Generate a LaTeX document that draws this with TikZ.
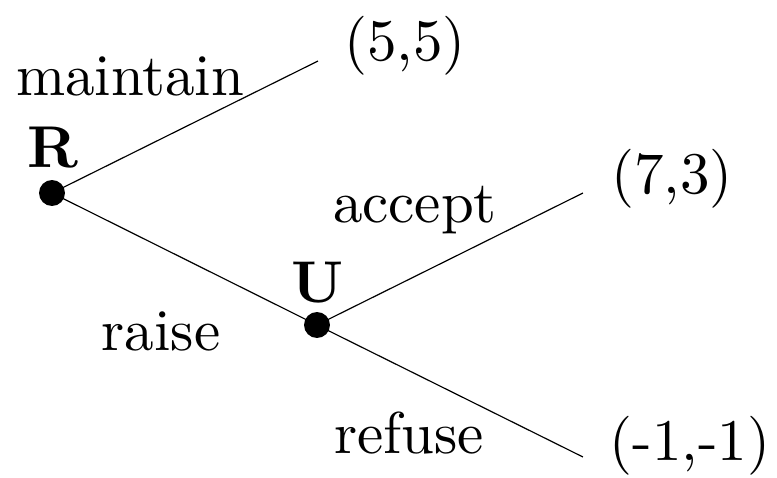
\documentclass[tikz,border=0pt]{standalone}
\usepackage{amsmath, amssymb}
\usepackage{tikz}

\begin{document}
\begin{tikzpicture}[x=0.1695pt, y=-0.1695pt, line width=0.2pt,
    dot/.style={circle, fill, inner sep=0pt, minimum size=4.4pt},
    lbl/.style={anchor=base, inner sep=0pt}]
  \useasboundingbox (0,0) rectangle (777,477);
  % decision nodes
  \node[dot] (R) at (52,193) {};
  \node[dot] (U) at (317,325) {};
  \coordinate (endM) at (318,61);
  \coordinate (endA) at (583,193);
  \coordinate (endF) at (583,457);
  \draw (R.center) -- (endM);
  \draw (R.center) -- (U.center);
  \draw (U.center) -- (endA);
  \draw (U.center) -- (endF);
  % labels
  \node[lbl] (rlab) at (53,167) {$\mathbf{R}$};
  \node[lbl] (ulab) at (318,302) {$\mathbf{U}$};
  \node[lbl] (maint) at (130,95) {maintain};
  \node[lbl] (raise) at (161,350) {raise};
  \node[lbl] (acc) at (415,222) {accept};
  \node[lbl] (ref) at (409,453) {refuse};
  \node[lbl] (payM) at (405,60) {(5,5)};
  \node[lbl] (payA) at (672,193) {(7,3)};
  \node[lbl] (payF) at (690,460) {(-1,-1)};
\end{tikzpicture}
\end{document}
